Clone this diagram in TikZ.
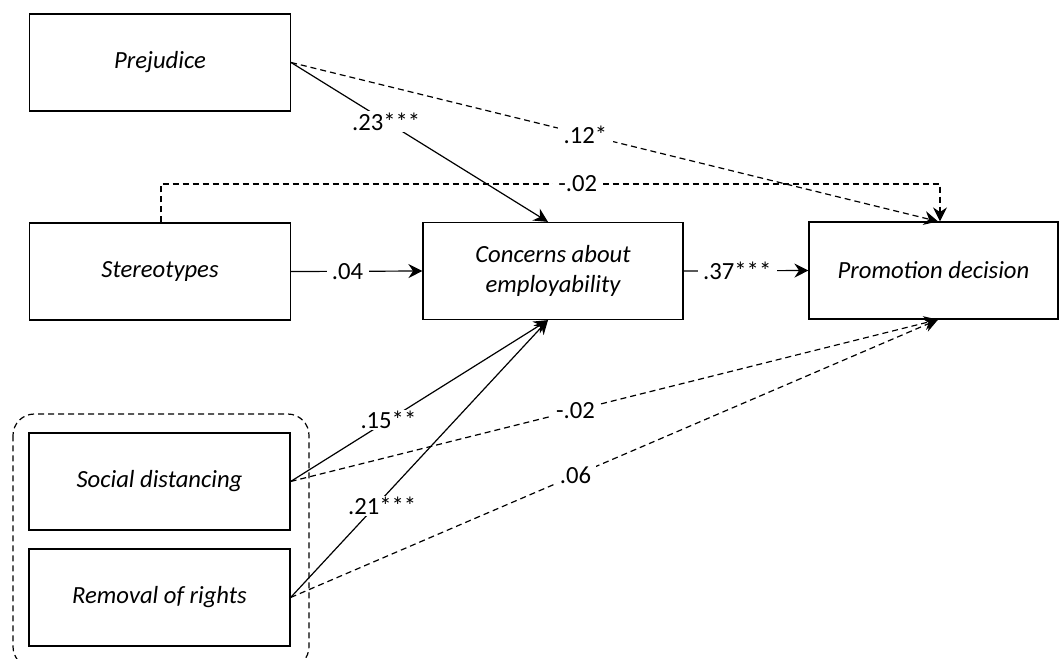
\documentclass[tikz,border=0pt]{standalone}
\usepackage{fontspec}
\setmainfont{Carlito}
\usetikzlibrary{arrows.meta}
\begin{document}
\begin{tikzpicture}[x=0.75pt,y=-0.75pt,
 box/.style={draw,line width=0.9pt,minimum width=195.75pt,minimum height=72.75pt,inner sep=2pt,align=center,font=\fontsize{18.5}{22.5}\selectfont\itshape},
 lab/.style={fill=white,inner xsep=4pt,inner ysep=1pt,font=\fontsize{18.5}{22}\selectfont},
 link/.style={line width=0.9pt,-{Stealth[length=10.5pt,width=10.5pt,inset=3.5pt]}},
 dlink/.style={link,dash pattern=on 4.5pt off 3pt}]
\useasboundingbox (0,0) rectangle (1060,658);
\clip (0,0) rectangle (1060,658);
% nodes
\node[box] (prej) at (160,62.5) {Prejudice};
\node[box] (ster) at (160,271.5) {Stereotypes};
\node[box, minimum width=195pt] (conc) at (553,271) {Concerns about\\employability};
\node[box, minimum width=186.75pt] (prom) at (933.5,270.5) {Promotion decision};
\node[box] (soc) at (159.5,481.5) {Social distancing};
\node[box] (rem) at (159.5,597.5) {Removal of rights};
% group
\draw[line width=0.9pt,dash pattern=on 4.5pt off 3pt,rounded corners=16pt] (13,414) rectangle (309,668);
% connectors
\draw[link] (prej.east) -- node[lab,pos=0.37]{.23***} ([xshift=-3.75pt]conc.north);
\draw[dlink] (prej.east) -- node[lab,pos=0.455]{.12*} ([xshift=3.4pt]prom.north);
\coordinate (a1) at (161,184);
\coordinate (a2) at (940,184);
\draw[dlink] (ster.north -| a1) -- (a1) -- node[lab,pos=0.535]{-.02} (a2) -- (prom.north -| a2);
\draw[link] (ster.east) -- node[lab,pos=0.43]{.04} (conc.west);
\draw[link] (conc.east) -- node[lab,pos=0.43]{.37***} (prom.west);
\draw[link] (soc.east) -- node[lab,pos=0.38]{.15**} ([xshift=-3.75pt]conc.south);
\draw[link] (rem.east) -- node[lab,pos=0.33,xshift=5pt]{.21***} ([xshift=-3.75pt]conc.south);
\draw[dlink] (soc.east) -- node[lab,pos=0.44]{-.02} ([xshift=3.4pt]prom.south);
\draw[dlink] (rem.east) -- node[lab,pos=0.44]{.06} ([xshift=3.4pt]prom.south);
\end{tikzpicture}
\end{document}
